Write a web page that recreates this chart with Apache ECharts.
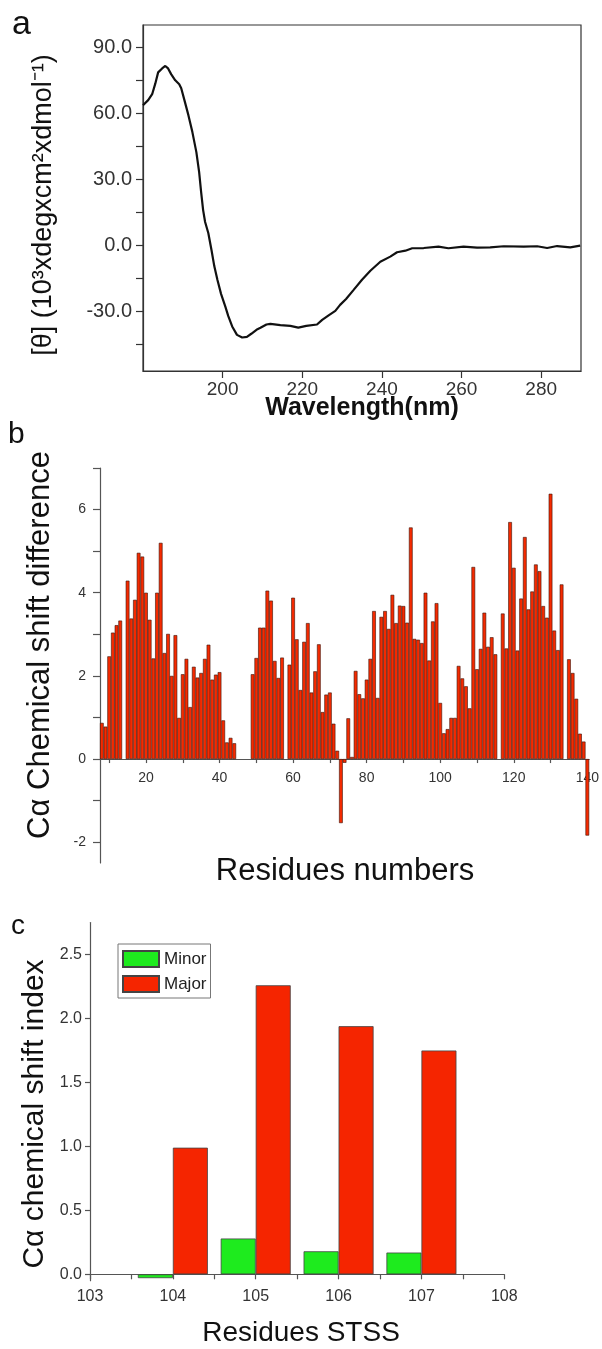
<!DOCTYPE html>
<html><head><meta charset="utf-8">
<script src="https://cdn.jsdelivr.net/npm/echarts@6/dist/echarts.min.js"></script>
<style>html,body{margin:0;padding:0;background:#fff}#c{width:602px;height:1349px}</style>
</head><body><div id="c"></div>
<script>
// Panel a: CD spectrum
const cdWavelength = [180.0,181.3,182.3,183.1,183.8,184.8,185.6,186.3,187.1,188.1,189.1,189.6,190.4,191.4,192.4,193.4,194.1,194.6,195.1,195.6,196.4,197.2,197.9,198.7,199.6,200.7,201.4,202.4,203.6,204.9,206.1,207.2,208.5,209.5,211.0,212.0,214.5,217.0,219.0,221.0,223.7,225.0,226.8,228.3,229.5,231.0,232.9,235.0,237.1,239.6,242.1,243.8,245.9,247.6,250.5,254.2,256.7,260.5,263.9,267.2,270.6,275.6,279.0,281.5,284.0,287.3,289.8];
const cdEllipticity = [63.6,65.9,68.6,73.5,78.5,80.3,81.4,80.3,77.6,74.9,73.1,71.3,65.9,59.1,51.4,42.3,33.2,24.2,16.0,10.6,5.6,-2.1,-9.4,-15.7,-22.0,-27.9,-32.0,-36.8,-40.6,-41.8,-41.5,-40.1,-38.3,-37.4,-35.9,-35.6,-36.2,-36.5,-37.3,-36.5,-35.9,-33.8,-31.5,-29.7,-27.0,-24.3,-20.2,-15.6,-11.5,-7.4,-5.1,-3.1,-2.4,-1.3,-1.2,-0.6,-1.3,-0.6,-1.0,-0.9,-0.4,-0.6,-0.4,-1.2,-0.3,-0.9,-0.1];
const cdXTicks = [200,220,240,260,280];
const cdYTicks = [-30,0,30,60,90];
const cdYMinorTicks = [-45,-30,-15,0,15,30,45,60,75,90];

// Panel b: C-alpha chemical shift difference per residue
const residues = [8,9,10,11,12,13,15,16,17,18,19,20,21,22,23,24,25,26,27,28,29,30,31,32,33,34,35,36,37,38,39,40,41,42,43,44,49,50,51,52,53,54,55,56,57,59,60,61,62,63,64,65,66,67,68,69,70,71,72,73,74,75,76,77,78,79,80,81,82,83,84,85,86,87,88,89,90,91,92,93,94,95,96,97,98,99,100,101,102,103,104,105,106,107,108,109,110,111,112,113,114,115,117,118,119,120,121,122,123,124,125,126,127,128,129,130,131,132,133,135,136,137,138,139,140];
const shiftDiff = [0.87,0.78,2.47,3.04,3.22,3.33,4.29,3.38,3.83,4.96,4.87,4.0,3.35,2.42,4.0,5.2,2.55,3.01,2.0,2.98,0.99,2.04,2.41,1.25,2.22,1.96,2.07,2.41,2.75,1.91,2.03,2.09,0.93,0.4,0.51,0.38,2.04,2.43,3.16,3.16,4.05,3.81,2.36,1.95,2.44,2.27,3.88,2.88,1.66,2.82,3.27,1.6,2.11,2.76,1.13,1.55,1.6,0.85,0.2,-1.54,-0.09,0.98,0.05,2.12,1.56,1.46,1.91,2.41,3.56,1.47,3.42,3.56,3.13,3.95,3.27,3.69,3.68,3.28,5.57,2.89,2.87,2.79,4.0,2.37,3.31,3.75,1.35,0.62,0.72,0.99,0.99,2.24,1.94,1.75,1.22,4.62,2.16,2.65,3.52,2.7,2.93,2.52,3.5,2.66,5.7,4.6,2.61,3.86,5.34,3.6,4.03,4.68,4.52,3.68,3.4,6.38,3.09,2.62,4.2,2.4,2.07,1.45,0.61,0.42,-1.84];
const resXLabels = [20,40,60,80,100,120,140];
const resXTicks = [10,20,30,40,50,60,70,80,90,100,110,120,130,140];
const resYLabels = [-2,0,2,4,6];
const resYTicks = [-2,-1,0,1,2,3,4,5,6,7];

// Panel c: chemical shift index of residues STSS
const stssResidues = [104,105,106,107];
const minorIndex = [-0.03,0.28,0.18,0.17];
const majorIndex = [0.99,2.26,1.94,1.75];
const stssXLabels = [103,104,105,106,107,108];
const stssXTicks = [103,103.5,104,104.5,105,105.5,106,106.5,107,107.5,108];
const stssYLabels = [0,0.5,1.0,1.5,2.0,2.5];

const FF = '"Liberation Sans", Arial, Helvetica, sans-serif';
const axisCol = '#333';
const lab = (size) => ({fontFamily: FF, fontSize: size, color: '#333'});

// axis ranges and grid geometry
const bY = {min: -2.5, max: 7}, bH = 395;
const cY = {min: -0.05, max: 2.75}, cH = 358.1;
// offsets that bring the x axes of panels b and c onto their zero lines
const bOffset = -bH * (0 - bY.min) / (bY.max - bY.min);
const cOffset = -cH * (0 - cY.min) / (cY.max - cY.min);

const chart = echarts.init(document.getElementById('c'), null, {renderer: 'canvas'});

const option = {
  animation: false,
  backgroundColor: '#fff',
  grid: [
    {left: 143, top: 25, width: 438, height: 346, show: true, borderColor: '#333', borderWidth: 1.2, backgroundColor: 'transparent'},
    {left: 100, top: 468, width: 490, height: bH},
    {left: 90, top: 922.6, width: 414.3, height: cH}
  ],
  xAxis: [
    {gridIndex: 0, type: 'value', min: 180, max: 290, interval: 20,
     axisLine: {show: true, onZero: false, lineStyle: {color: axisCol, width: 1.2}},
     axisTick: {show: true, customValues: cdXTicks, length: 7, lineStyle: {color: axisCol, width: 1.2}},
     axisLabel: Object.assign({customValues: cdXTicks, margin: 9}, lab(19)),
     splitLine: {show: false}},
    {gridIndex: 1, type: 'value', min: 7.5, max: 140.5, offset: bOffset,
     axisLine: {show: true, onZero: false, lineStyle: {color: '#555', width: 1.2}},
     axisTick: {show: true, customValues: resXTicks, length: 4, lineStyle: {color: '#555', width: 1.2}},
     axisLabel: Object.assign({customValues: resXLabels, margin: 12}, lab(14)),
     splitLine: {show: false}},
    {gridIndex: 2, type: 'value', min: 103, max: 108, interval: 1, offset: cOffset,
     axisLine: {show: true, onZero: false, lineStyle: {color: '#555', width: 1.2}},
     axisTick: {show: true, customValues: stssXTicks, length: 5, lineStyle: {color: '#555', width: 1.2}},
     axisLabel: Object.assign({customValues: stssXLabels, margin: 14}, lab(16)),
     splitLine: {show: false}}
  ],
  yAxis: [
    {gridIndex: 0, type: 'value', min: -57, max: 100,
     axisLine: {show: true, onZero: false, lineStyle: {color: axisCol, width: 1.2}},
     axisTick: {show: true, customValues: cdYMinorTicks, length: 7, lineStyle: {color: axisCol, width: 1.2}},
     axisLabel: Object.assign({customValues: cdYTicks, margin: 11, formatter: v => v.toFixed(1)}, lab(20)),
     splitLine: {show: false}},
    {gridIndex: 1, type: 'value', min: bY.min, max: bY.max,
     axisLine: {show: true, onZero: false, lineStyle: {color: '#555', width: 1.2}},
     axisTick: {show: true, customValues: resYTicks, length: 7, lineStyle: {color: '#555', width: 1.2}},
     axisLabel: Object.assign({customValues: resYLabels, margin: 14}, lab(14)),
     splitLine: {show: false}},
    {gridIndex: 2, type: 'value', min: cY.min, max: cY.max,
     axisLine: {show: true, onZero: false, lineStyle: {color: '#555', width: 1.2}},
     axisTick: {show: true, customValues: stssYLabels, length: 5, lineStyle: {color: '#555', width: 1.2}},
     axisLabel: Object.assign({customValues: stssYLabels, margin: 8, formatter: v => v.toFixed(1)}, lab(16)),
     splitLine: {show: false}}
  ],
  legend: {
    left: 118, top: 944, orient: 'vertical',
    itemWidth: 36, itemHeight: 16, itemGap: 7,
    padding: [6, 4, 5, 4],
    borderColor: '#777', borderWidth: 1, backgroundColor: '#fff',
    textStyle: {fontFamily: FF, fontSize: 17, color: '#222', lineHeight: 16},
    data: [{name: 'Minor', icon: 'rect'}, {name: 'Major', icon: 'rect'}]
  },
  series: [
    {type: 'line', xAxisIndex: 0, yAxisIndex: 0, showSymbol: false, symbol: 'none',
     lineStyle: {color: '#111', width: 2.2}, silent: true,
     data: cdWavelength.map((w, i) => [w, cdEllipticity[i]])},
    {type: 'bar', xAxisIndex: 1, yAxisIndex: 1, barWidth: 3.7,
     itemStyle: {color: '#F52A00', borderColor: '#3b1208', borderWidth: 0.6},
     data: residues.map((r, i) => [r, shiftDiff[i]])},
    {name: 'Minor', type: 'bar', xAxisIndex: 2, yAxisIndex: 2, barWidth: 35, barGap: '0%',
     itemStyle: {color: '#1EEB1E', borderColor: '#444', borderWidth: 0.8},
     data: stssResidues.map((r, i) => [r, minorIndex[i]])},
    {name: 'Major', type: 'bar', xAxisIndex: 2, yAxisIndex: 2, barWidth: 35, barGap: '0%',
     itemStyle: {color: '#F52500', borderColor: '#444', borderWidth: 0.8},
     data: stssResidues.map((r, i) => [r, majorIndex[i]])}
  ],
  graphic: [
    {type: 'text', x: 12, y: 8, style: {text: 'a', fontFamily: FF, fontSize: 34, fill: '#111', align: 'left', verticalAlign: 'top'}},
    {type: 'text', x: 8, y: 420, style: {text: 'b', fontFamily: FF, fontSize: 30, fill: '#111', align: 'left', verticalAlign: 'top'}},
    {type: 'text', x: 11, y: 912, style: {text: 'c', fontFamily: FF, fontSize: 28, fill: '#111', align: 'left', verticalAlign: 'top'}},
    {type: 'text', x: 362, y: 408, style: {text: 'Wavelength(nm)', fontFamily: FF, fontSize: 25, fontWeight: 'bold', fill: '#111', align: 'center', verticalAlign: 'middle'}},
    {type: 'text', x: 44, y: 205, rotation: Math.PI / 2, style: {text: '[θ] (10³xdegxcm²xdmol⁻¹)', fontFamily: FF, fontSize: 27, fill: '#111', align: 'center', verticalAlign: 'middle'}},
    {type: 'text', x: 40, y: 645, rotation: Math.PI / 2, style: {text: 'Cα Chemical shift difference', fontFamily: FF, fontSize: 31, fill: '#111', align: 'center', verticalAlign: 'middle'}},
    {type: 'text', x: 345, y: 871, style: {text: 'Residues numbers', fontFamily: FF, fontSize: 31, fill: '#111', align: 'center', verticalAlign: 'middle'}},
    {type: 'text', x: 35, y: 1114, rotation: Math.PI / 2, style: {text: 'Cα chemical shift index', fontFamily: FF, fontSize: 30, fill: '#111', align: 'center', verticalAlign: 'middle'}},
    {type: 'text', x: 301, y: 1333, style: {text: 'Residues STSS', fontFamily: FF, fontSize: 28, fill: '#111', align: 'center', verticalAlign: 'middle'}}
  ]
};
chart.setOption(option);
</script>
</body></html>
